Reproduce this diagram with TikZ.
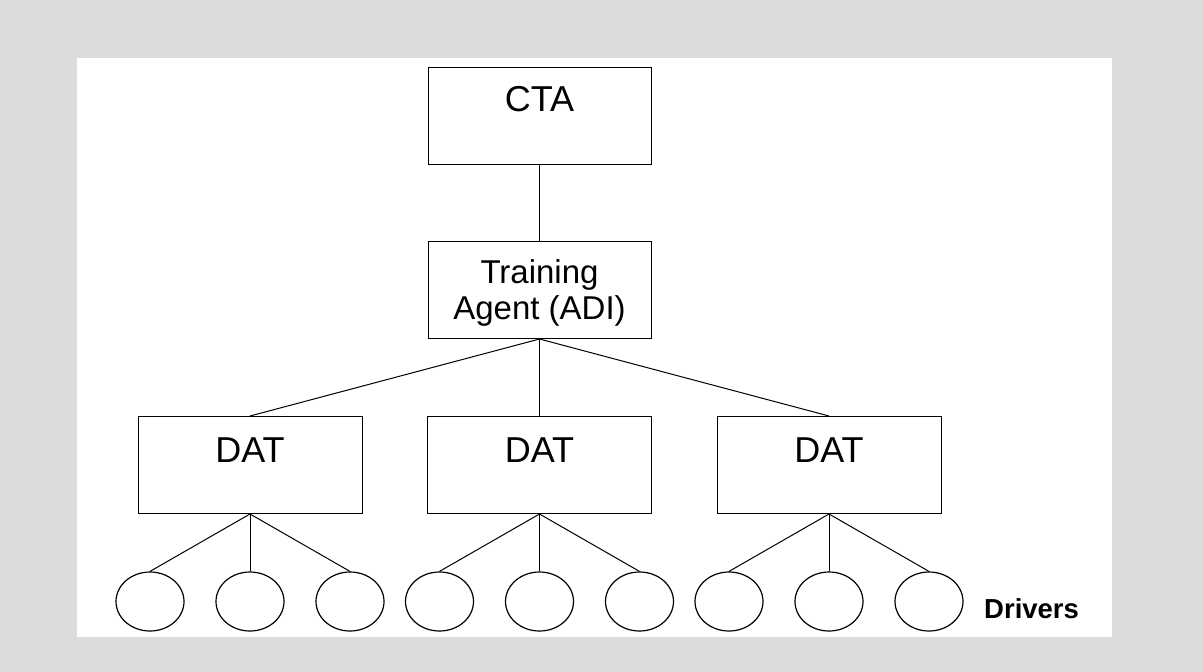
\documentclass[tikz,border=0pt]{standalone}
\usepackage{fontspec}
\setmainfont{Liberation Sans}
\usetikzlibrary{shapes.geometric}
\definecolor{panelgray}{HTML}{DCDCDC}

\begin{document}
\begin{tikzpicture}[x=1pt,y=-1pt,
  box/.style={draw,line width=1pt,minimum width=223pt,minimum height=97pt,inner sep=0pt,font=\fontsize{36}{40}\selectfont},
  driver/.style={draw,ellipse,line width=1.2pt,minimum width=68pt,minimum height=59pt,inner sep=0pt},
  link/.style={line width=1pt}]
\fill[panelgray] (0,0) rectangle (1203,672);
\fill[white] (77,58) rectangle (1112,637);

\node[box,text height=26pt,text depth=35pt] (cta) at (539.5,115.5) {CTA};
\node[box,align=center,font=\fontsize{33}{36}\selectfont] (agent) at (539.5,290) {\rule{0pt}{29pt}Training\\Agent (ADI)};
\draw[link] (cta) -- (agent);
\foreach \i/\x in {1/250,2/539.5,3/829}{
  \node[box,minimum width=224pt,text height=27pt,text depth=33pt] (dat\i) at (\x,465) {DAT};
  \draw[link] (agent.south) -- (dat\i.north);
  \foreach \j/\dx in {1/-100,2/0,3/100}{
    \node[driver] (drv\i\j) at (\x+\dx,601.5) {};
    \draw[link] (dat\i.south) -- (drv\i\j.north);
  }
}
\node[font=\bfseries\fontsize{27.5}{32}\selectfont,anchor=base west,inner sep=0pt] (drivers) at (984,618) {Drivers};
\end{tikzpicture}
\end{document}
